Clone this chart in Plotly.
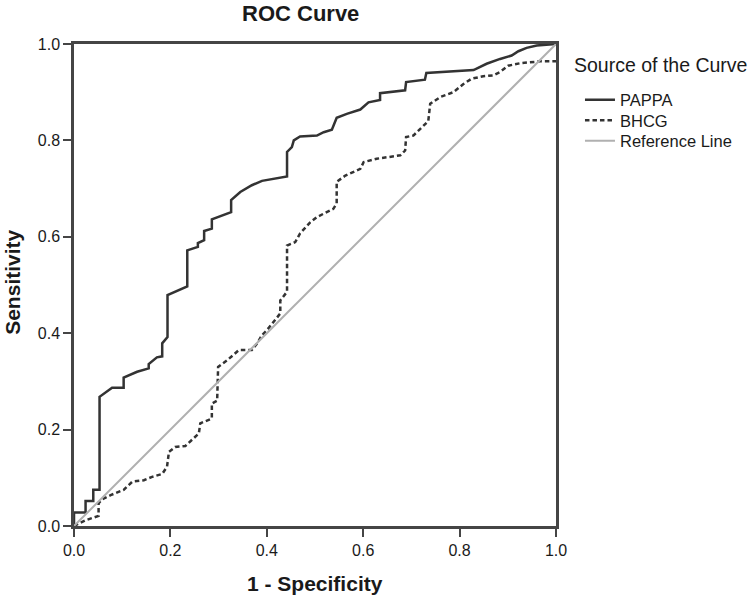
import plotly.graph_objects as go

# PAPPA ROC curve (1 - specificity, sensitivity)
pappa_x = [0.0, 0.0, 0.024, 0.024, 0.04, 0.04, 0.053, 0.053, 0.079, 0.103, 0.103, 0.131, 0.155, 0.155,
           0.172, 0.183, 0.183, 0.194, 0.194, 0.235, 0.235, 0.257, 0.257, 0.27, 0.27, 0.286, 0.286,
           0.31, 0.326, 0.326, 0.345, 0.369, 0.39, 0.442, 0.442, 0.452, 0.456, 0.469, 0.49, 0.504,
           0.518, 0.535, 0.545, 0.566, 0.594, 0.611, 0.635, 0.635, 0.687, 0.689, 0.728, 0.731,
           0.829, 0.856, 0.884, 0.908, 0.922, 0.939, 0.96, 0.994, 1.0]
pappa_y = [0.0, 0.028, 0.028, 0.052, 0.052, 0.075, 0.075, 0.268, 0.287, 0.287, 0.308, 0.32, 0.327, 0.336,
           0.35, 0.352, 0.379, 0.392, 0.479, 0.497, 0.572, 0.579, 0.587, 0.593, 0.612, 0.617, 0.636,
           0.645, 0.651, 0.676, 0.693, 0.707, 0.716, 0.725, 0.776, 0.786, 0.8, 0.808, 0.81, 0.81,
           0.817, 0.822, 0.847, 0.855, 0.864, 0.879, 0.884, 0.898, 0.904, 0.921, 0.926, 0.94,
           0.946, 0.959, 0.969, 0.976, 0.985, 0.992, 0.997, 1.0, 1.0]

# BHCG ROC curve
bhcg_x = [0.0, 0.024, 0.051, 0.051, 0.058, 0.076, 0.103, 0.121, 0.145, 0.162, 0.183, 0.193, 0.197,
          0.21, 0.231, 0.259, 0.262, 0.286, 0.286, 0.297, 0.299, 0.318, 0.342, 0.369, 0.38, 0.39,
          0.4, 0.418, 0.428, 0.428, 0.442, 0.442, 0.459, 0.469, 0.49, 0.504, 0.538, 0.545, 0.545,
          0.563, 0.594, 0.601, 0.628, 0.677, 0.687, 0.689, 0.704, 0.735, 0.739, 0.76, 0.787,
          0.808, 0.825, 0.849, 0.87, 0.884, 0.901, 0.925, 0.946, 0.967, 1.0]
bhcg_y = [0.0, 0.012, 0.021, 0.047, 0.055, 0.064, 0.075, 0.092, 0.095, 0.102, 0.108, 0.123, 0.154,
          0.164, 0.166, 0.192, 0.213, 0.223, 0.254, 0.26, 0.33, 0.344, 0.365, 0.365, 0.379, 0.396,
          0.406, 0.427, 0.441, 0.468, 0.486, 0.582, 0.589, 0.607, 0.63, 0.641, 0.658, 0.669, 0.714,
          0.727, 0.741, 0.755, 0.762, 0.769, 0.779, 0.807, 0.81, 0.84, 0.876, 0.89, 0.9,
          0.917, 0.928, 0.933, 0.935, 0.942, 0.955, 0.96, 0.962, 0.964, 0.964]

ref_x = [0.0, 1.0]
ref_y = [0.0, 1.0]

tick_vals = [0.0, 0.2, 0.4, 0.6, 0.8, 1.0]
tick_text = ["0.0", "0.2", "0.4", "0.6", "0.8", "1.0"]

FONT = "Liberation Sans, Arial, sans-serif"
TXT = "#1a1a1a"

W, H = 750, 599
L, R, T, B = 73.5, 556, 43.5, 526  # plot area in px

fig = go.Figure()
fig.add_trace(go.Scatter(x=pappa_x, y=pappa_y, mode="lines", name="PAPPA", legend="legend",
                         line=dict(color="#333333", width=2.5)))
fig.add_trace(go.Scatter(x=bhcg_x, y=bhcg_y, mode="lines", name="BHCG", legend="legend2",
                         line=dict(color="#333333", width=2.5, dash="4.5px,3px")))
fig.add_trace(go.Scatter(x=ref_x, y=ref_y, mode="lines", name="Reference Line", legend="legend3",
                         line=dict(color="#b0b0b0", width=2)))

axis_common = dict(range=[0, 1], showgrid=False, zeroline=False, showline=True, mirror=True,
                   linecolor="#454545", linewidth=2.5, ticks="outside", ticklen=8, tickwidth=2,
                   tickcolor="#454545", tickvals=tick_vals, ticktext=tick_text, automargin=False,
                   tickfont=dict(family=FONT, size=16, color=TXT))

pw, ph = R - L, B - T

def px_to_paper(x, y):
    return (x - L) / pw, (B - y) / ph

tx, ty = px_to_paper(300, 13)
xtx, xty = px_to_paper(315, 584)
ytx, yty = px_to_paper(12, 282)
ltx, lty = px_to_paper(572, 65)

def legend_at(center_y):
    lx, ly = px_to_paper(580, center_y - 17)
    return dict(x=lx, y=ly, xanchor="left", yanchor="top",
                font=dict(family=FONT, size=16.5, color=TXT),
                bgcolor="rgba(0,0,0,0)", itemwidth=30, borderwidth=0)

fig.update_layout(
    width=W, height=H,
    margin=dict(l=L, r=W - R, t=T, b=H - B, autoexpand=False),
    paper_bgcolor="white", plot_bgcolor="white",
    font=dict(family=FONT, color=TXT),
    xaxis=axis_common,
    yaxis=axis_common,
    legend=legend_at(99),
    legend2=legend_at(119.5),
    legend3=legend_at(140),
    showlegend=True,
    annotations=[
        dict(text="<b>ROC Curve</b>", x=tx, y=ty, xref="paper", yref="paper",
             xanchor="center", yanchor="middle", showarrow=False,
             font=dict(family=FONT, size=22, color=TXT)),
        dict(text="<b>1 - Specificity</b>", x=xtx, y=xty, xref="paper", yref="paper",
             xanchor="center", yanchor="middle", showarrow=False,
             font=dict(family=FONT, size=21, color=TXT)),
        dict(text="<b>Sensitivity</b>", x=ytx, y=yty, xref="paper", yref="paper",
             xanchor="center", yanchor="middle", showarrow=False, textangle=-90,
             font=dict(family=FONT, size=21, color=TXT)),
        dict(text="Source of the Curve", x=ltx, y=lty, xref="paper", yref="paper",
             xanchor="left", yanchor="middle", showarrow=False,
             font=dict(family=FONT, size=19.5, color=TXT)),
    ],
)

fig.write_html("out.html", config={"displayModeBar": False},
               post_script="document.body.style.margin='0';document.body.style.overflow='hidden';")
